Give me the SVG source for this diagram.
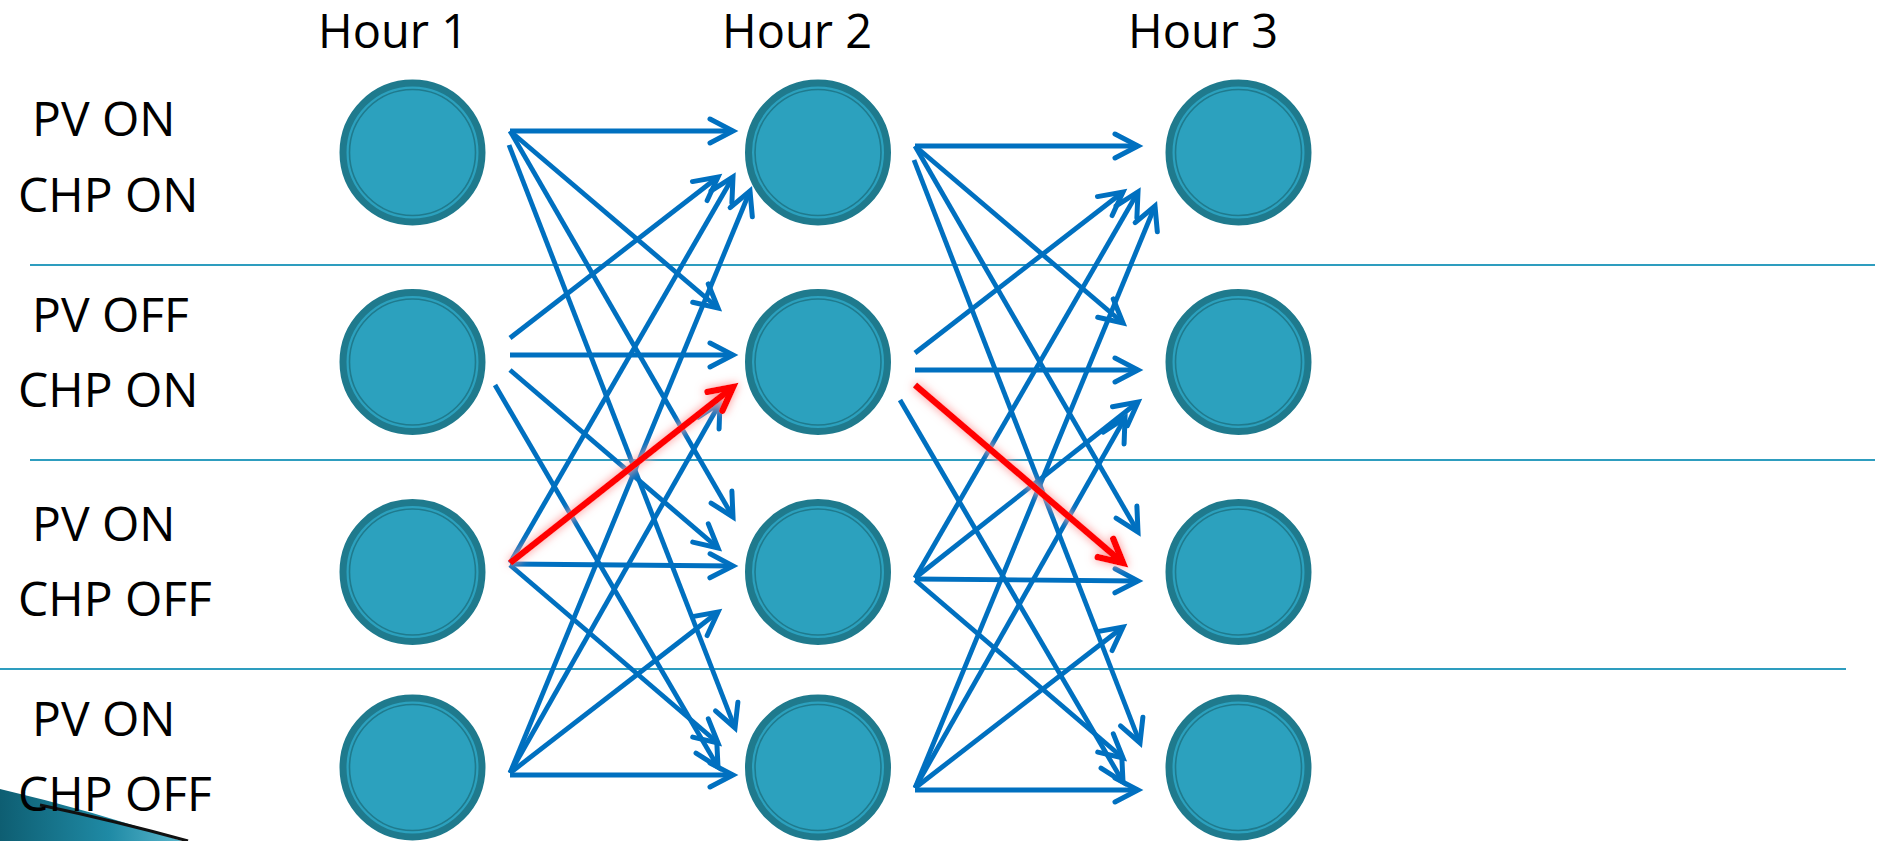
<svg xmlns="http://www.w3.org/2000/svg" width="1878" height="841" viewBox="0 0 1878 841">
<style>
.lbl{font-family:"Open Sans","Noto Sans","Liberation Sans",sans-serif;font-size:48px;fill:#000}
.hr{font-size:47px}
.div{stroke:#2E9DBF;stroke-width:2}
.node-o{fill:#2CA1BE;stroke:#1F7A8D;stroke-width:7}
.node-i{fill:none;stroke:#1F7A8D;stroke-width:1.6}
.e{stroke:#0070C0;stroke-width:4.8;fill:none;marker-end:url(#ab)}
.r{stroke:#FF0000;stroke-width:6.5;fill:none;marker-end:url(#ar)}
</style>
<defs>
<marker id="ab" markerUnits="userSpaceOnUse" markerWidth="40" markerHeight="40" viewBox="-30 -20 40 40" refX="0" refY="0" orient="auto">
<path d="M-23,-12 L0,0 L-23,12" fill="none" stroke="#0070C0" stroke-width="5" stroke-linecap="round"/>
</marker>
<marker id="ar" markerUnits="userSpaceOnUse" markerWidth="40" markerHeight="40" viewBox="-30 -20 40 40" refX="0" refY="0" orient="auto">
<path d="M-23,-12 L0,0 L-23,12" fill="none" stroke="#FF0000" stroke-width="6.5" stroke-linecap="round"/>
</marker>
<filter id="glow" x="-20%" y="-20%" width="140%" height="140%">
<feGaussianBlur in="SourceGraphic" stdDeviation="5" result="b"/>
<feColorMatrix in="b" type="matrix" values="1 0 0 0 0.2  0 1 0 0 0.35  0 0 1 0 0.35  0 0 0 1.2 0" result="g"/>
<feMerge><feMergeNode in="g"/><feMergeNode in="SourceGraphic"/></feMerge>
</filter>
<linearGradient id="sw" x1="0" y1="0" x2="1" y2="0">
<stop offset="0" stop-color="#0E5E72"/>
<stop offset="0.6" stop-color="#1F8AA5"/>
<stop offset="1" stop-color="#5AB6CC"/>
</linearGradient>
</defs>

<g id="swoosh">
<path d="M0,789 Q90,810 182,841 L0,841 Z" fill="url(#sw)"/>
<path d="M40,805 Q120,822 188,841" fill="none" stroke="#111" stroke-width="3"/>
</g>

<g id="dividers">
<line class="div" x1="30" y1="265" x2="1875" y2="265"/>
<line class="div" x1="30" y1="460" x2="1875" y2="460"/>
<line class="div" x1="0" y1="669" x2="1846" y2="669"/>
</g>

<g id="labels">
<text class="lbl hr" x="318" y="48">Hour 1</text>
<text class="lbl hr" x="722" y="48">Hour 2</text>
<text class="lbl hr" x="1128" y="48">Hour 3</text>
<text class="lbl" x="32" y="136">PV ON</text>
<text class="lbl" x="18" y="212">CHP ON</text>
<text class="lbl" x="32" y="332">PV OFF</text>
<text class="lbl" x="18" y="407">CHP ON</text>
<text class="lbl" x="32" y="541">PV ON</text>
<text class="lbl" x="18" y="616">CHP OFF</text>
<text class="lbl" x="32" y="736">PV ON</text>
<text class="lbl" x="18" y="811">CHP OFF</text>
</g>

<g id="n11"><circle class="node-o" cx="412.5" cy="152.5" r="69.5"/><circle class="node-i" cx="412.5" cy="152.5" r="63"/></g>
<g id="n12"><circle class="node-o" cx="412.5" cy="362" r="69.5"/><circle class="node-i" cx="412.5" cy="362" r="63"/></g>
<g id="n13"><circle class="node-o" cx="412.5" cy="572" r="69.5"/><circle class="node-i" cx="412.5" cy="572" r="63"/></g>
<g id="n14"><circle class="node-o" cx="412.5" cy="767.5" r="69.5"/><circle class="node-i" cx="412.5" cy="767.5" r="63"/></g>
<g id="n21"><circle class="node-o" cx="818" cy="152.5" r="69.5"/><circle class="node-i" cx="818" cy="152.5" r="63"/></g>
<g id="n22"><circle class="node-o" cx="818" cy="362" r="69.5"/><circle class="node-i" cx="818" cy="362" r="63"/></g>
<g id="n23"><circle class="node-o" cx="818" cy="572" r="69.5"/><circle class="node-i" cx="818" cy="572" r="63"/></g>
<g id="n24"><circle class="node-o" cx="818" cy="767.5" r="69.5"/><circle class="node-i" cx="818" cy="767.5" r="63"/></g>
<g id="n31"><circle class="node-o" cx="1238.5" cy="152.5" r="69.5"/><circle class="node-i" cx="1238.5" cy="152.5" r="63"/></g>
<g id="n32"><circle class="node-o" cx="1238.5" cy="362" r="69.5"/><circle class="node-i" cx="1238.5" cy="362" r="63"/></g>
<g id="n33"><circle class="node-o" cx="1238.5" cy="572" r="69.5"/><circle class="node-i" cx="1238.5" cy="572" r="63"/></g>
<g id="n34"><circle class="node-o" cx="1238.5" cy="767.5" r="69.5"/><circle class="node-i" cx="1238.5" cy="767.5" r="63"/></g>

<g id="connectors">
<g id="c12">
<line class="e" x1="510" y1="131" x2="733" y2="131"/>
<line class="e" x1="510" y1="131" x2="718" y2="308"/>
<line class="e" x1="510" y1="131" x2="733" y2="517"/>
<line class="e" x1="509" y1="145" x2="735" y2="728"/>
<line class="e" x1="510" y1="338" x2="718" y2="177"/>
<line class="e" x1="510" y1="355" x2="733" y2="355"/>
<line class="e" x1="510" y1="370" x2="718" y2="548"/>
<line class="e" x1="495" y1="385" x2="718" y2="767"/>
<line class="e" x1="510" y1="563" x2="733" y2="177"/>
<line class="e" x1="510" y1="563" x2="733" y2="387"/>
<line class="e" x1="510" y1="564" x2="733" y2="566"/>
<line class="e" x1="510" y1="565" x2="718" y2="743"/>
<line class="e" x1="510" y1="773" x2="750" y2="191"/>
<line class="e" x1="510" y1="773" x2="720" y2="403"/>
<line class="e" x1="510" y1="773" x2="718" y2="612"/>
<line class="e" x1="510" y1="775" x2="733" y2="775"/>
</g>
<g id="c23" transform="translate(405,15)">
<line class="e" x1="510" y1="131" x2="733" y2="131"/>
<line class="e" x1="510" y1="131" x2="718" y2="308"/>
<line class="e" x1="510" y1="131" x2="733" y2="517"/>
<line class="e" x1="509" y1="145" x2="735" y2="728"/>
<line class="e" x1="510" y1="338" x2="718" y2="177"/>
<line class="e" x1="510" y1="355" x2="733" y2="355"/>
<line class="e" x1="510" y1="370" x2="718" y2="548"/>
<line class="e" x1="495" y1="385" x2="718" y2="767"/>
<line class="e" x1="510" y1="563" x2="733" y2="177"/>
<line class="e" x1="510" y1="563" x2="733" y2="387"/>
<line class="e" x1="510" y1="564" x2="733" y2="566"/>
<line class="e" x1="510" y1="565" x2="718" y2="743"/>
<line class="e" x1="510" y1="773" x2="750" y2="191"/>
<line class="e" x1="510" y1="773" x2="720" y2="403"/>
<line class="e" x1="510" y1="773" x2="718" y2="612"/>
<line class="e" x1="510" y1="775" x2="733" y2="775"/>
</g>
<g id="red" filter="url(#glow)">
<line class="r" x1="510" y1="563" x2="733" y2="387"/>
<line class="r" x1="915" y1="385" x2="1123" y2="563"/>
</g>
</g>
</svg>
